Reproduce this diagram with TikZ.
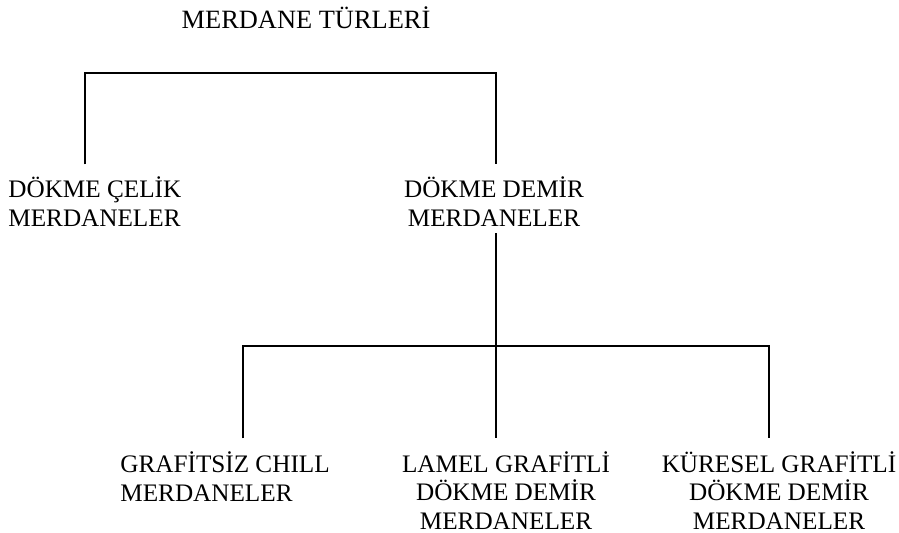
\documentclass[tikz,border=0pt]{standalone}
\usepackage{fontspec}
\setmainfont{Liberation Serif}

\tikzset{
    label/.style={inner sep=0pt, font=\fontsize{12.6}{14.25}\selectfont},
    branch/.style={line width=0.9pt}
}

\begin{document}
\begin{tikzpicture}[x=0.5pt, y=-0.5pt]
    \useasboundingbox (0,0) rectangle (899,532);

    \node[label, font=\fontsize{13.2}{15}\selectfont, anchor=base] (turler) at (306,28.5)
        {MERDANE TÜRLERİ};

    % first level (base anchor sits on the last line)
    \node[label, align=left, anchor=base west] (celik) at (8,226)
        {DÖKME ÇELİK\\MERDANELER};
    \node[label, align=center, anchor=base] (demir) at (494,226)
        {DÖKME DEMİR\\MERDANELER};

    % second level, under the cast iron rolls
    \node[label, align=left, anchor=base west] (chill) at (120,501)
        {GRAFİTSİZ CHILL\\MERDANELER};
    \node[label, align=center, anchor=base] (lamel) at (506,529)
        {LAMEL GRAFİTLİ\\DÖKME DEMİR\\MERDANELER};
    \node[label, align=center, anchor=base] (kuresel) at (779,529)
        {KÜRESEL GRAFİTLİ\\DÖKME DEMİR\\MERDANELER};

    \coordinate (barA) at (85,73);
    \coordinate (barB) at (496,73);
    \coordinate (barC) at (243,346);
    \coordinate (barD) at (496,346);
    \coordinate (barE) at (769,346);

    \draw[branch, shorten <=6pt, shorten >=6pt]
        (celik.north -| barA) -- (barA) -- (barB) -- (demir.north -| barB);
    \draw[branch, shorten <=3.5pt] (demir.south -| barB) -- (barD);
    \draw[branch, shorten <=6.5pt, shorten >=6.5pt]
        (chill.north -| barC) -- (barC) -- (barE) -- (kuresel.north -| barE);
    \draw[branch, shorten >=6.5pt] (barD) -- (lamel.north -| barD);
\end{tikzpicture}
\end{document}
